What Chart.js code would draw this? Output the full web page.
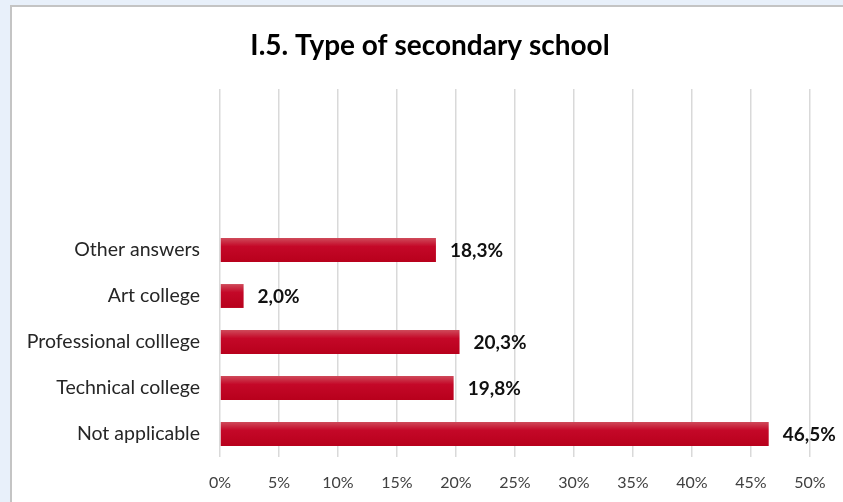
<!DOCTYPE html>
<html>
<head>
<meta charset="utf-8">
<script src="https://cdn.jsdelivr.net/npm/chart.js@4"></script>
<style>
  html, body { margin: 0; padding: 0; background: #e8f0fa; overflow: hidden; }
  #panel {
    position: absolute; left: 10px; top: 5px; width: 840px; height: 500px;
    background: #fff; border-left: 2px solid #c4c4c4; border-top: 2px solid #c4c4c4;
  }
  #wrap { position: absolute; left: 0; top: 0; width: 831px; height: 495px; }
</style>
</head>
<body>
<div id="panel"><div id="wrap"><canvas id="chart"></canvas></div></div>
<script>
// categories top to bottom, three empty slots above the answers
const categories = ['', '', '', 'Other answers', 'Art college', 'Professional colllege', 'Technical college', 'Not applicable'];
const shares = [null, null, null, 18.3, 2.0, 20.3, 19.8, 46.5];
const xTicks = [0, 5, 10, 15, 20, 25, 30, 35, 40, 45, 50];
const chartTitle = 'I.5. Type of secondary school';

const FONT = 'Lato, "Open Sans", sans-serif';
const BAR_PCT = 0.52;

// vertical red gradient per bar, built from the category scale
function barFill(context) {
  const chart = context.chart;
  const y = chart.scales.y;
  if (!y || context.dataIndex === undefined) return '#c00020';
  const centre = y.getPixelForValue(context.dataIndex);
  const half = Math.abs(y.getPixelForValue(1) - y.getPixelForValue(0)) * BAR_PCT / 2;
  if (!isFinite(centre) || !isFinite(half) || half === 0) return '#c00020';
  const g = chart.ctx.createLinearGradient(0, centre - half, 0, centre + half);
  g.addColorStop(0, '#cf4a5a');
  g.addColorStop(0.35, '#c40828');
  g.addColorStop(1, '#b8001c');
  return g;
}

// heading drawn over the whole panel width
const heading = {
  id: 'heading',
  afterDraw(chart) {
    const ctx = chart.ctx;
    ctx.save();
    ctx.font = 'bold 28px ' + FONT;
    ctx.fillStyle = '#000';
    ctx.textAlign = 'center';
    ctx.textBaseline = 'middle';
    ctx.fillText(chartTitle, 418, 39);
    ctx.restore();
  }
};

// bold percentage right of each bar
const valueLabels = {
  id: 'valueLabels',
  afterDatasetsDraw(chart) {
    const ctx = chart.ctx;
    ctx.save();
    ctx.font = 'bold 19px ' + FONT;
    ctx.fillStyle = '#111';
    ctx.textBaseline = 'middle';
    ctx.textAlign = 'left';
    chart.getDatasetMeta(0).data.forEach((bar, i) => {
      const v = shares[i];
      if (v === null) return;
      ctx.fillText(v.toFixed(1).replace('.', ',') + '%', bar.x + 14, bar.y + 1);
    });
    ctx.restore();
  }
};

new Chart(document.getElementById('chart'), {
  type: 'bar',
  data: {
    labels: categories,
    datasets: [{
      data: shares,
      backgroundColor: barFill,
      borderWidth: 0,
      barPercentage: BAR_PCT,
      categoryPercentage: 1
    }]
  },
  options: {
    indexAxis: 'y',
    responsive: true,
    maintainAspectRatio: false,
    animation: false,
    layout: { padding: { left: 0, right: 33, top: 82, bottom: 0 } },
    plugins: {
      legend: { display: false },
      tooltip: { enabled: false },
      title: { display: false }
    },
    scales: {
      x: {
        min: 0,
        max: 50,
        afterBuildTicks(scale) { scale.ticks = xTicks.map(v => ({ value: v })); },
        afterFit(scale) { scale.height = 45; },
        grid: { color: '#d9d9d9', lineWidth: 1.5, drawTicks: false },
        border: { display: false },
        ticks: {
          padding: 16,
          color: '#404040',
          font: { family: FONT, size: 16 },
          callback: v => v + '%'
        }
      },
      y: {
        afterFit(scale) { scale.width = 208; },
        grid: { display: false, drawTicks: false },
        border: { display: false },
        ticks: {
          padding: 20,
          color: '#262626',
          font: { family: FONT, size: 19.5 }
        }
      }
    }
  },
  plugins: [heading, valueLabels]
});
</script>
</body>
</html>
